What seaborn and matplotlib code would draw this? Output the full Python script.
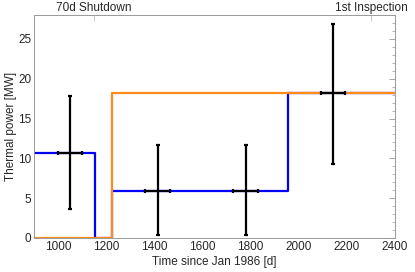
import numpy as np
import pandas as pd
import matplotlib
matplotlib.use("Agg")
import matplotlib.pyplot as plt
import seaborn as sns
from matplotlib.ticker import MultipleLocator

# -----------------------------------
# Data
# -----------------------------------
blue_t = [900, 1155, 1155, 1225, 1225, 1955, 1955, 2400]
blue_p = [10.7, 10.7, 0.0, 0.0, 5.95, 5.95, 18.15, 18.15]

orange_t = [900, 1225, 1225, 2400]
orange_p = [0.0, 0.0, 18.15, 18.15]

meas_t = [1050, 1413, 1779, 2143]
meas_p = [10.7, 5.95, 5.95, 18.15]
meas_terr = [50, 50, 51, 51]
meas_perr_lo = [7.0, 5.6, 5.6, 8.8]
meas_perr_hi = [7.1, 5.7, 5.7, 8.75]

top_ticks = [1150, 2300]
top_labels = ["70d Shutdown", "1st Inspection"]

# -----------------------------------
# Plot style
# -----------------------------------
sns.set_style("white")
plt.rcParams["font.family"] = ["Liberation Sans", "DejaVu Sans"]
FS = 8.5

fig, ax = plt.subplots(figsize=(4.15, 2.72), dpi=100)
fig.subplots_adjust(left=0.082, right=0.952, bottom=0.125, top=0.945)

sns.lineplot(x=blue_t, y=blue_p, ax=ax, color="#0000ff", lw=1.6,
             sort=False, estimator=None)
sns.lineplot(x=orange_t, y=orange_p, ax=ax, color="#ff8c1a", lw=1.6,
             sort=False, estimator=None)

ax.errorbar(meas_t, meas_p, xerr=meas_terr,
            yerr=[meas_perr_lo, meas_perr_hi],
            fmt="none", ecolor="black", elinewidth=1.6, capsize=1.5,
            capthick=1.6, zorder=5)

ax.set_xlim(900, 2400)
ax.set_ylim(0, 28)
ax.xaxis.set_major_locator(MultipleLocator(200))
ax.xaxis.set_minor_locator(MultipleLocator(50))
ax.yaxis.set_major_locator(MultipleLocator(5))
ax.yaxis.set_minor_locator(MultipleLocator(1))

ax.tick_params(which="both", direction="in", color="#999999",
               top=False, right=True, labelsize=FS, pad=2)
ax.tick_params(which="major", length=4, width=0.6)
ax.tick_params(which="minor", length=2, width=0.5)

for s in ax.spines.values():
    s.set_color("#999999")
    s.set_linewidth(0.7)

sec = ax.secondary_xaxis("top")
sec.set_xticks(top_ticks)
sec.set_xticklabels(top_labels)
sec.tick_params(direction="in", length=4, color="#cccccc", labelsize=FS, pad=0.5)
sec.spines["top"].set_visible(False)

ax.set_xlabel("Time since Jan 1986 [d]", fontsize=FS, labelpad=2)
ax.set_ylabel("Thermal power [MW]", fontsize=FS, labelpad=1)

fig.savefig("out.png", dpi=100)
plt.close(fig)
